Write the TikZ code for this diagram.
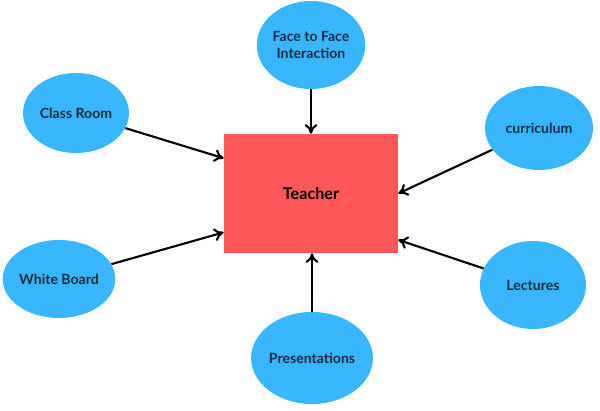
\documentclass[tikz,border=0pt]{standalone}
\usepackage{fontspec}
\setmainfont{Lato}
\usetikzlibrary{arrows.meta,shapes.geometric}
\definecolor{bubble}{HTML}{38B6FF}
\definecolor{boxred}{HTML}{FF5757}
\definecolor{ink}{HTML}{1E2B3C}
\begin{document}
\begin{tikzpicture}
    \tikzstyle{bubble}=[ellipse,fill=bubble,inner sep=0pt,text=ink,font=\bfseries\fontsize{10}{12.5}\selectfont,align=center]
    \tikzstyle{arrow}=[-{To[length=2.4mm,width=3.2mm]},line width=1.5pt,black]
    \useasboundingbox (0,0) rectangle (15,10.275);

    \node[rectangle,fill=boxred,minimum width=4.35cm,minimum height=2.975cm,font=\bfseries\fontsize{11.5}{13}\selectfont] (teacher) at (7.775,5.4375) {Teacher};

    \node[bubble,minimum width=2.7cm,minimum height=2.2cm]  (face)     at (7.775,9.15)  {Face to Face\\Interaction};
    \node[bubble,minimum width=2.65cm,minimum height=2cm]   (classroom) at (1.9,7.45)   {Class Room};
    \node[bubble,minimum width=2.7cm,minimum height=2.1cm]  (curric)   at (13.475,7.075) {curriculum};
    \node[bubble,minimum width=2.65cm,minimum height=1.95cm] (board)   at (1.475,3.3)   {White Board};
    \node[bubble,minimum width=2.65cm,minimum height=2.2cm] (lectures) at (13.325,3.15) {Lectures};
    \node[bubble,minimum width=2.9cm,minimum height=2.3cm]  (present)  at (7.8,1.325)   {Presentations};

    \draw[arrow] (face) -- (face |- teacher.north);
    \draw[arrow] (classroom) -- (teacher.158);
    \draw[arrow] (curric) -- (teacher.east);
    \draw[arrow] (board) -- (teacher.204);
    \draw[arrow] (lectures) -- (teacher.-28);
    \draw[arrow] (present) -- (present |- teacher.south);

\end{tikzpicture}
\end{document}
